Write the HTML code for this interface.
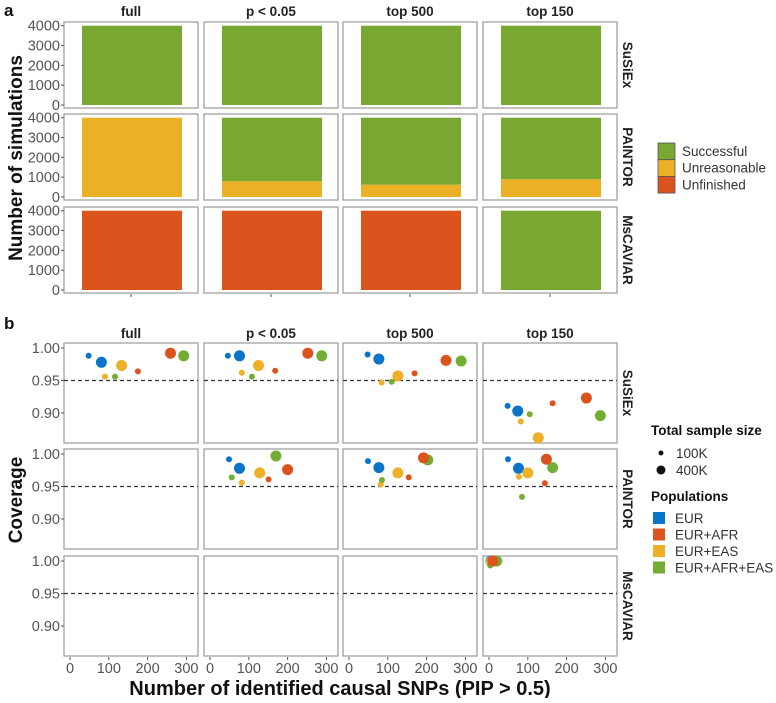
<!DOCTYPE html>
<html><head><meta charset="utf-8">
<style>
body{margin:0;background:#fff;font-family:"Liberation Sans",Arial,sans-serif;}
svg text{font-family:"Liberation Sans",Arial,sans-serif;}
</style></head>
<body>
<svg id="fig" width="776" height="698" viewBox="0 0 776 698" xmlns="http://www.w3.org/2000/svg"></svg>
<script>
// ---------- data ----------
const columns = ["full","p < 0.05","top 500","top 150"];
const methods = ["SuSiEx","PAINTOR","MsCAVIAR"];
const statusNames = ["Successful","Unreasonable","Unfinished"];
const successCounts = [[4000,4000,4000,4000],[0,3200,3380,3100],[0,0,0,4000]];
const unreasonableCounts = [[0,0,0,0],[4000,800,620,900],[0,0,0,0]];
const unfinishedCounts = [[0,0,0,0],[0,0,0,0],[4000,4000,4000,0]];
const countTicks = [0,1000,2000,3000,4000];
const popNames = ["EUR","EUR+AFR","EUR+EAS","EUR+AFR+EAS"];
const sizeNames = ["100K","400K"];
const pointPop  = [0,0,2,2,3,3,1,1];
const pointSize = [0,1,0,1,0,1,0,1];
const snpCounts = {
 "SuSiEx":[[48,81,90,133,116,293,175,259],[46,76,82,125,108,288,168,252],[48,77,84,126,110,289,169,250],[48,74,82,127,105,287,164,251]],
 "PAINTOR":[null,[49,76,82,128,56,170,151,200],[49,77,82,126,85,203,154,192],[49,76,77,100,85,164,144,148]],
 "MsCAVIAR":[null,null,null,[2,5,3,6,3,20,8,10]]
};
const coverage = {
 "SuSiEx":[[.988,.978,.956,.973,.956,.988,.964,.992],[.988,.988,.962,.973,.956,.988,.965,.992],[.990,.983,.947,.957,.948,.980,.961,.981],[.911,.903,.887,.862,.898,.896,.915,.923]],
 "PAINTOR":[null,[.992,.978,.956,.971,.964,.997,.961,.976],[.989,.979,.953,.971,.960,.991,.964,.994],[.992,.978,.965,.971,.934,.979,.955,.992]],
 "MsCAVIAR":[null,null,null,[1.0,1.0,.997,.999,.993,1.0,1.0,1.0]]
};
const covTicks = [0.90,0.95,1.00];
const snpTicks = [0,100,200,300];

// ---------- styles ----------
const statusColors = ["#79A832","#EBB026","#DC541D"];
const popColors = ["#0A74C8","#DC541D","#EEB026","#72AE33"];
const colLeft = [64,204,343,483];
const panelW = 134;
const aRowTop = [22,114,207];
const aRowH = 86;
const bRowTop = [343,449,556];
const bRowH = 100;
const NS="http://www.w3.org/2000/svg";
const svg=document.getElementById('fig');
function el(tag,attrs,parent){const e=document.createElementNS(NS,tag);for(const k in attrs)e.setAttribute(k,attrs[k]);(parent||svg).appendChild(e);return e;}
function txt(s,attrs,parent){const t=el('text',attrs,parent);t.textContent=s;return t;}

function yCount(row,v){return aRowTop[row]+83-v*(79.3/4000);}
function yCov(row,v){return bRowTop[row]+5+(1-v)*650;}
function xSnp(col,v){return colLeft[col]+6+v*0.388;}

let t;
t=txt('a',{x:4,y:16,'font-size':17,'font-weight':'bold',fill:'#111'});

t=txt('b',{x:4,y:329,'font-size':17,'font-weight':'bold',fill:'#111'});


t=txt('Number of simulations',{x:0,y:0,'font-size':19,'font-weight':'bold',fill:'#111','text-anchor':'middle',transform:'translate(22,158) rotate(-90)'});

t=txt('Coverage',{x:0,y:0,'font-size':19,'font-weight':'bold',fill:'#111','text-anchor':'middle',transform:'translate(22,500) rotate(-90)'});

t=txt('Number of identified causal SNPs (PIP > 0.5)',{x:340,y:695,'font-size':20,'font-weight':'bold',fill:'#111','text-anchor':'middle'});


columns.forEach((c,ci)=>{
  [16,338].forEach((y,k)=>{
    const s=txt(c,{x:colLeft[ci]+panelW/2,y:y,'font-size':13.5,'font-weight':'bold',fill:'#222','text-anchor':'middle'});
    
  });
});
methods.forEach((m,ri)=>{
  [aRowTop[ri]+aRowH/2,bRowTop[ri]+bRowH/2].forEach((yy)=>{
    const s=txt(m,{x:0,y:0,'font-size':13.5,'font-weight':'bold',fill:'#222','text-anchor':'middle',transform:`translate(623,${yy}) rotate(90)`});
    
  });
});

// ---------- panel a ----------
methods.forEach((m,ri)=>{
  columns.forEach((c,ci)=>{
    const g=el('g',{});
    
    
    el('rect',{x:colLeft[ci],y:aRowTop[ri],width:panelW,height:aRowH,fill:'#fff',stroke:'#9a9a9a','stroke-width':1.2},g);
    let base=0;
    const order=[[unfinishedCounts[ri][ci],statusColors[2]],[unreasonableCounts[ri][ci],statusColors[1]],[successCounts[ri][ci],statusColors[0]]];
    order.forEach(([v,col])=>{
      if(v<=0)return;
      const y1=yCount(ri,base),y2=yCount(ri,base+v);
      const r=el('rect',{x:colLeft[ci]+18,y:y2,width:100,height:y1-y2,fill:col},g);
      
      
      base+=v;
    });
  });
  countTicks.forEach(v=>{
    const y=yCount(ri,v);
    el('line',{x1:colLeft[0]-3,x2:colLeft[0],y1:y,y2:y,stroke:'#555','stroke-width':1});
    const s=txt(String(v),{x:colLeft[0]-4,y:y+5,'font-size':14.5,fill:'#555','text-anchor':'end'});
    
  });
});
columns.forEach((c,ci)=>{el('line',{x1:colLeft[ci]+panelW/2,x2:colLeft[ci]+panelW/2,y1:294,y2:297,stroke:'#555'});});

statusNames.forEach((s,i)=>{
  const y=143+i*16.7;
  const r=el('rect',{x:658,y:y,width:17,height:16.7,fill:statusColors[i],stroke:'#555','stroke-width':0.8});
  
  const tt=txt(s,{x:682,y:y+13,'font-size':13.5,fill:'#333'});
  
});

// ---------- panel b ----------
methods.forEach((m,ri)=>{
  columns.forEach((c,ci)=>{
    const g=el('g',{});
    
    
    el('rect',{x:colLeft[ci],y:bRowTop[ri],width:panelW,height:bRowH,fill:'#fff',stroke:'#9a9a9a','stroke-width':1.2},g);
    const yl=yCov(ri,0.95);
    el('line',{x1:colLeft[ci],x2:colLeft[ci]+panelW,y1:yl,y2:yl,stroke:'#333','stroke-width':1.2,'stroke-dasharray':'4,3'},g);
    const xs=snpCounts[m][ci],ys=coverage[m][ci];
    if(!xs)return;
    xs.forEach((v,k)=>{
      const p=el('circle',{cx:xSnp(ci,v),cy:yCov(ri,ys[k]),r:pointSize[k]?5.5:3,fill:popColors[pointPop[k]]},g);
      
      
    });
  });
  covTicks.forEach(v=>{
    const y=yCov(ri,v);
    el('line',{x1:colLeft[0]-3,x2:colLeft[0],y1:y,y2:y,stroke:'#555'});
    const s=txt(v.toFixed(2),{x:colLeft[0]-4,y:y+5,'font-size':14.5,fill:'#555','text-anchor':'end'});
    
  });
});
columns.forEach((c,ci)=>{
  snpTicks.forEach(v=>{
    const x=xSnp(ci,v);
    el('line',{x1:x,x2:x,y1:657,y2:660,stroke:'#555'});
    const s=txt(String(v),{x:x,y:673,'font-size':14.5,fill:'#555','text-anchor':'middle'});
    
  });
});

t=txt('Total sample size',{x:651,y:435,'font-size':13.5,'font-weight':'bold',fill:'#111'});

sizeNames.forEach((s,i)=>{
  const y=453+i*17;
  const c=el('circle',{cx:661,cy:y,r:i?4.5:2.5,fill:'#111'});
  
  const tt=txt(s,{x:676,y:y+5,'font-size':13.5,fill:'#333'});
  
});
t=txt('Populations',{x:651,y:501,'font-size':13.5,'font-weight':'bold',fill:'#111'});

popNames.forEach((s,i)=>{
  const y=518+i*16.5;
  const r=el('rect',{x:653,y:y-6,width:12,height:12,fill:popColors[i]});
  
  const tt=txt(s,{x:675,y:y+5,'font-size':13.5,fill:'#333'});
  
});
</script>
</body></html>
